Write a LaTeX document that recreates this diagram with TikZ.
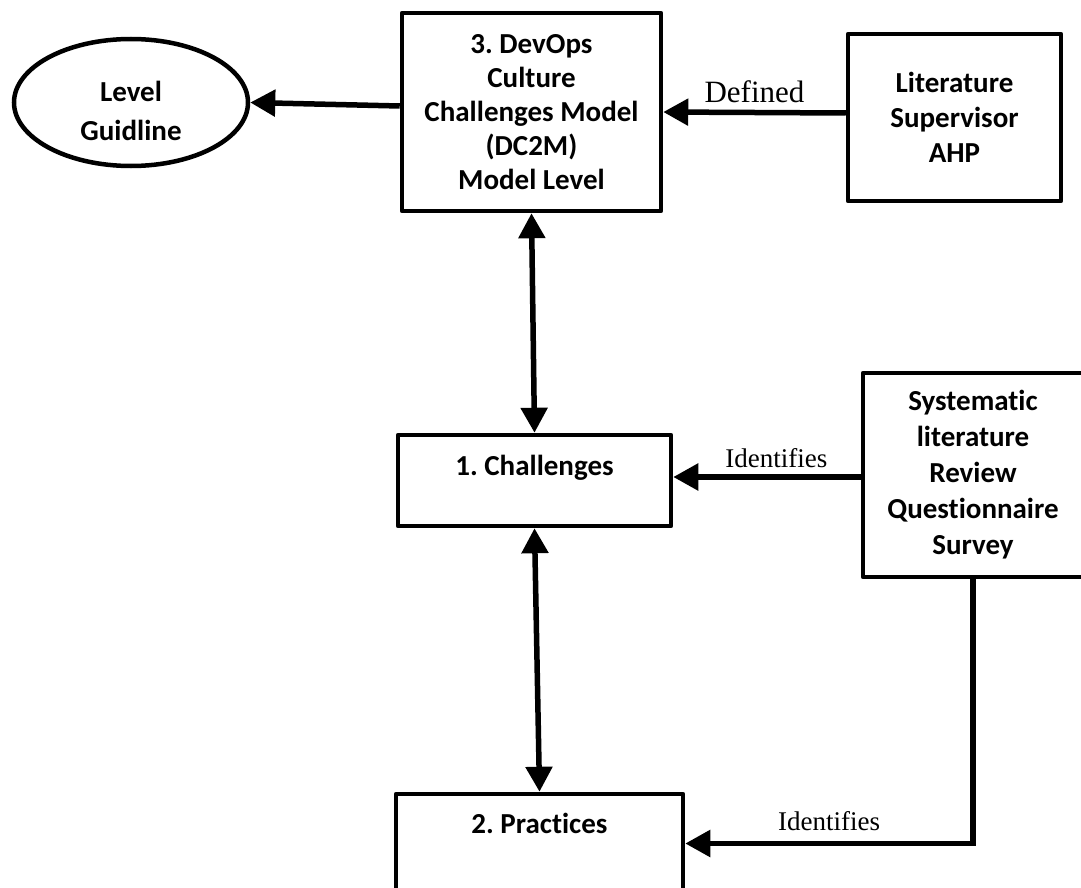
\documentclass[tikz,border=0pt]{standalone}
\usepackage{fontspec}
\setmainfont{Carlito}[Ligatures=NoCommon]
\newfontfamily\labelfont{Liberation Serif}
\usetikzlibrary{arrows.meta, shapes.geometric}
\frenchspacing

\tikzset{
  box/.style={draw, line width=4.5pt, line join=round, inner sep=0pt,
    font=\fontsize{29}{34}\selectfont\bfseries},
  multi/.style={align=center},
  oval/.style={draw, ellipse, line width=4.5pt, inner sep=0pt, align=center,
    font=\fontsize{29}{39}\selectfont\bfseries},
  conn/.style={line width=5.5pt},
  lbl/.style={inner sep=0pt}
}
\newcommand{\lowerline}[1]{\raisebox{-8pt}[\height][\depth]{#1}}

\begin{document}
\begin{tikzpicture}[x=1pt, y=-1pt, >={Triangle[length=25pt,width=26pt]}]
  \useasboundingbox (0,0) rectangle (1081,888);

  % Model and its inputs
  \node[box, multi, minimum width=259pt, minimum height=198pt] (dc2m) at (531.5,112)
    {3. DevOps\\Culture\\Challenges Model\\(DC2M)\\Model Level};
  \node[oval, minimum width=234pt, minimum height=127pt] (guide) at (131,102.5)
    {\lowerline{Level}\\\lowerline{Guidline}};
  \node[box, multi, font=\fontsize{29}{35}\selectfont\bfseries,
        minimum width=213pt, minimum height=167pt] (lit) at (954.5,117.5)
    {Literature\\Supervisor\\AHP};

  % Challenges and practices
  \node[box, minimum width=273pt, text height=40pt, text depth=51pt] (chal) at (534.5,480.5)
    {1. Challenges};
  \node[box, minimum width=287pt, text height=39pt, text depth=60pt] (prac) at (539.5,843.5)
    {2. Practices};
  \node[box, multi, font=\fontsize{29}{36}\selectfont\bfseries,
        minimum width=220pt, minimum height=204pt] (sys) at (973,475)
    {Systematic\\literature\\Review\\Questionnaire\\Survey};

  % Connectors
  \draw[conn, ->] ([yshift=6pt]dc2m.west) -- (guide.east);
  \draw[conn, ->] ([yshift=4.5pt]lit.west) -- (dc2m.east)
    node[lbl, midway, above=7pt, font=\labelfont\fontsize{31}{34}\selectfont] (defd) {Defined};
  \draw[conn, <->] (dc2m.south) -- (chal.north);
  \draw[conn, ->] ([yshift=-2pt]sys.west) -- ([yshift=-2pt]sys.west -| chal.east)
    node[lbl, pos=0.45, above=6pt, font=\labelfont\fontsize{27}{30}\selectfont] (idchal) {Identifies};
  \draw[conn, <->] (chal.south) -- (prac.north);
  \draw[conn, ->] (sys.south) |- (prac.east)
    node[lbl, pos=0.75, above=10pt, font=\labelfont\fontsize{27}{30}\selectfont] (idprac) {Identifies};

\end{tikzpicture}
\end{document}
